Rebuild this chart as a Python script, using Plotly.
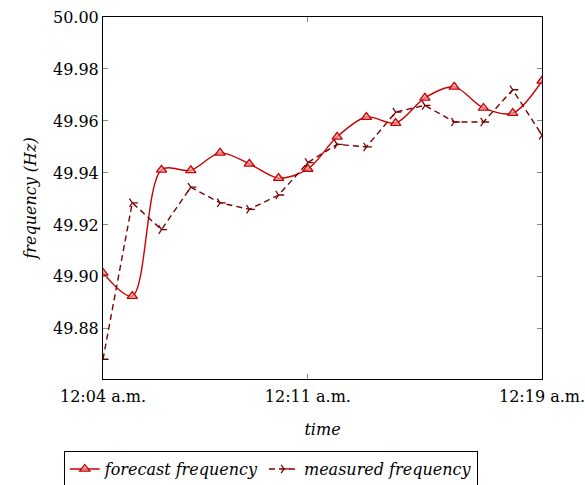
import plotly.graph_objects as go

# One reading per minute, 12:04 to 12:19 a.m.
times = [f"2020-01-01 00:{m:02d}" for m in range(4, 20)]
forecast = [49.9015, 49.8926, 49.9412, 49.9410, 49.9477, 49.9435, 49.9380, 49.9415,
            49.9539, 49.9615, 49.9592, 49.9689, 49.9731, 49.9650, 49.9630, 49.9754]
measured = [49.8683, 49.9285, 49.9182, 49.9345, 49.9285, 49.9260, 49.9315, 49.9440,
            49.9510, 49.9500, 49.9634, 49.9660, 49.9596, 49.9596, 49.9720, 49.9545]
x_tickvals = ["2020-01-01 00:04", "2020-01-01 00:11", "2020-01-01 00:19"]
x_ticktext = ["12:04 a.m.", "12:11 a.m.", "12:19 a.m."]
y_tickvals = [49.88, 49.90, 49.92, 49.94, 49.96, 49.98, 50.00]

FONT = "DejaVu Serif"
FS = 16
RED = "#c80000"
DARK = "#7a0000"

fig = go.Figure()
fig.add_trace(go.Scatter(
    x=times, y=forecast, name="forecast frequency", mode="lines+markers",
    line=dict(color=RED, width=1.4, shape="spline", smoothing=0.9),
    marker=dict(symbol="triangle-up", size=9, color="rgba(235,150,150,0.7)",
                line=dict(color=RED, width=1.3)),
))
fig.add_trace(go.Scatter(
    x=times, y=measured, name="measured frequency", mode="lines+markers",
    line=dict(color=DARK, width=1.4, dash="6px,4px"),
    marker=dict(symbol="y-right", size=7, line=dict(color=DARK, width=1.3)),
))

fig.update_layout(
    width=585, height=485,
    margin=dict(l=103, r=43, t=17, b=106, autoexpand=False),
    plot_bgcolor="white", paper_bgcolor="white",
    font=dict(family=FONT, size=FS, color="black"),
    showlegend=True,
    legend=dict(
        orientation="h", xref="container", yref="container",
        x=0.109, y=0.07, xanchor="left", yanchor="top",
        bordercolor="black", borderwidth=1, bgcolor="white",
        font=dict(family=FONT, size=FS, style="italic"),
        itemwidth=30, tracegroupgap=0,
    ),
)
fig.update_xaxes(
    range=["2020-01-01 00:04", "2020-01-01 00:19"],
    tickvals=x_tickvals, ticktext=x_ticktext, automargin=False,
    ticklabeloverflow="allow", ticklabelstandoff=3,
    ticks="inside", ticklen=5, tickcolor="#888", showgrid=False, zeroline=False,
    showline=True, linecolor="black", linewidth=1, mirror="ticks",
    title=dict(text="time", font=dict(family=FONT, size=FS, style="italic"), standoff=18),
)
fig.update_yaxes(
    range=[49.8607, 50.0],
    tickvals=y_tickvals, tickformat=".2f", automargin=False,
    ticklabeloverflow="allow",
    ticks="inside", ticklen=5, tickcolor="#888", showgrid=False, zeroline=False,
    showline=True, linecolor="black", linewidth=1, mirror="ticks",
    title=dict(text="frequency (Hz)", font=dict(family=FONT, size=FS, style="italic"), standoff=12),
)

fig.write_html("out.html")
